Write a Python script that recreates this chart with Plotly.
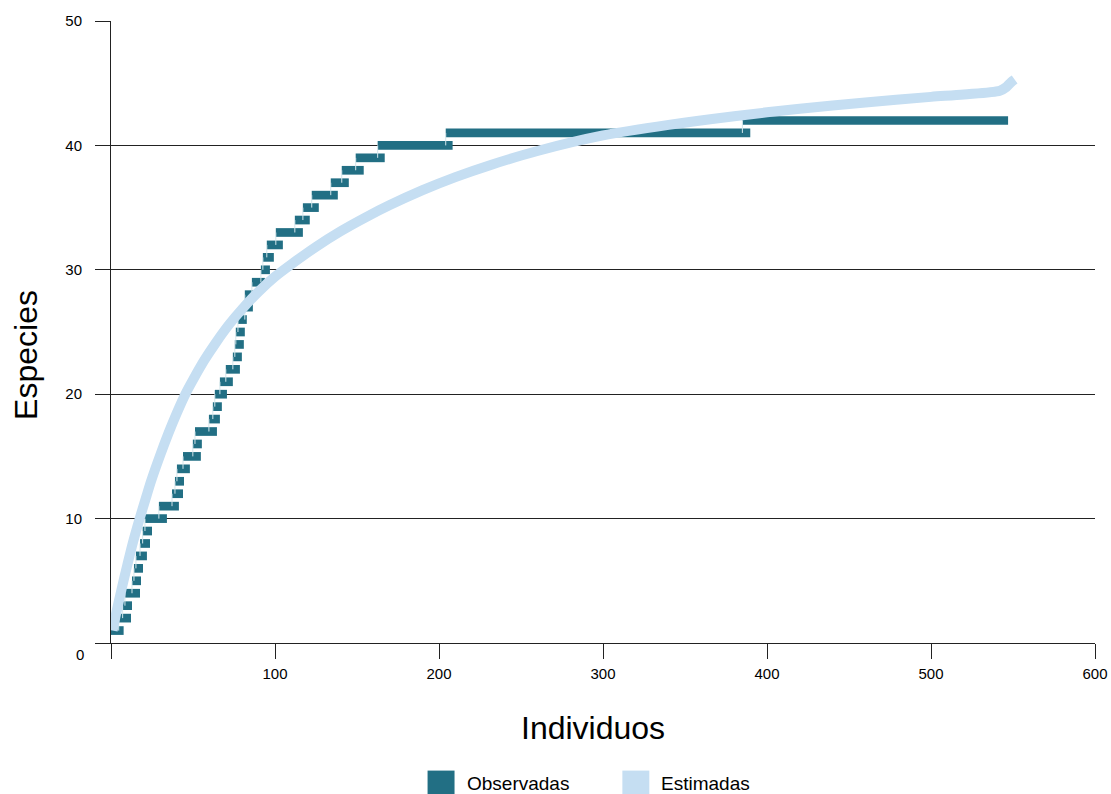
import plotly.graph_objects as go

# ---------------- data ----------------
species = list(range(1, 43))
seg_start = [-2.4, 4.7, 7.1, 8.5, 12.8, 14.0, 15.2, 17.7, 19.3, 20.7,
             29.2, 37.2, 39.0, 40.2, 43.9, 49.9, 51.2, 59.7, 62.1, 63.3,
             66.4, 70.0, 74.3, 75.5, 76.1, 77.4, 81.6, 81.6, 85.9, 91.4,
             92.6, 95.0, 100.5, 112.1, 117.0, 122.4, 134.0, 140.7, 149.2, 162.6,
             204.1, 385.0]
seg_end = [7.7, 12.2, 12.8, 17.7, 18.3, 19.5, 21.9, 23.8, 25.0, 34.1,
           41.4, 43.9, 44.5, 48.1, 54.8, 55.4, 64.6, 66.4, 67.6, 70.7,
           74.3, 78.6, 79.8, 81.0, 81.6, 82.8, 86.5, 88.3, 93.8, 96.9,
           99.3, 104.8, 117.0, 121.2, 126.7, 138.3, 145.0, 154.1, 166.9, 208.3,
           389.8, 547.0]

est_x = [1, 3, 6.4, 10, 13.4, 17.7, 21.6, 24.4, 30, 35, 40, 45.7, 50, 57, 64,
         72, 80, 90, 100, 110, 125, 140, 155, 170, 190, 210, 232, 260, 300,
         340, 380, 420, 460, 500, 520, 542, 546, 549, 551]
est_y = [1.0, 2.3, 4.3, 6.3, 8.1, 10.1, 11.8, 13.0, 15.1, 16.85, 18.45, 20.1,
         21.15, 22.75, 24.15, 25.6, 26.85, 28.25, 29.45, 30.45, 31.85, 33.1, 34.2,
         35.2, 36.4, 37.45, 38.45, 39.55, 40.8, 41.65, 42.35, 42.95, 43.45, 43.9,
         44.1, 44.4, 44.7, 45.1, 45.3]

x_ticks = [0, 100, 200, 300, 400, 500, 600]
y_ticks = [0, 10, 20, 30, 40, 50]

x_title = "Individuos"
y_title = "Especies"
legend_names = ["Observadas", "Estimadas"]

# ---------------- styles ----------------
OBS = "#226f84"
EST = "#c5def2"
GRID = "#222222"
FONT = "Liberation Sans, Arial, sans-serif"

fig = go.Figure()

# thin connectors between steps
cx, cy = [], []
for i in range(len(species) - 1):
    cx += [seg_start[i + 1], seg_start[i + 1], None]
    cy += [species[i], species[i + 1], None]
fig.add_trace(go.Scatter(x=cx, y=cy, mode="lines",
                         line=dict(color="#d3e6ec", width=1),
                         showlegend=False, hoverinfo="skip"))

# observed step segments
fig.add_trace(go.Bar(
    orientation="h",
    y=species,
    x=[e - s for s, e in zip(seg_start, seg_end)],
    base=seg_start,
    width=0.7,
    marker=dict(color=OBS, line=dict(width=0)),
    name=legend_names[0],
    showlegend=False,
))

# estimated curve
fig.add_trace(go.Scatter(
    x=est_x, y=est_y, mode="lines",
    line=dict(color=EST, width=10, shape="spline", smoothing=0.8),
    name=legend_names[1],
    showlegend=False,
))

# layout geometry (horizontal factor compensates the capture width)
SX = 1120 / 1111
W, H = 1120, 794
L = round(110 * SX)
R = W - round(1095 * SX)
T, B = 19, 151
pw, ph = W - L - R, H - T - B


def px_x(px):
    return (px * SX - L) / pw


def px_y(py):
    return (H - B - py) / ph


fig.update_layout(
    width=W, height=H,
    margin=dict(l=L, r=R, t=T, b=B, pad=0),
    paper_bgcolor="white", plot_bgcolor="white",
    font=dict(family=FONT, color="black", size=15),
    showlegend=False,
    xaxis=dict(
        range=[0, 600], tickvals=x_ticks,
        ticktext=["" if v == 0 else str(v) for v in x_ticks],
        showgrid=False, zeroline=False,
        showline=True, linecolor=GRID, linewidth=1,
        ticks="outside", ticklen=15, tickcolor=GRID, tickwidth=1,
        ticklabelstandoff=2,
        tickfont=dict(size=15, family=FONT),
    ),
    yaxis=dict(
        range=[0, 50], tickvals=y_ticks,
        ticktext=["" if v == 0 else str(v) for v in y_ticks],
        showgrid=True, gridcolor=GRID, gridwidth=1, zeroline=False,
        showline=True, linecolor=GRID, linewidth=1,
        ticks="outside", ticklen=15, tickcolor=GRID, tickwidth=1,
        ticklabelstandoff=10,
        tickfont=dict(size=15, family=FONT),
    ),
    shapes=[
        dict(type="rect", xref="paper", yref="paper",
             x0=px_x(427), x1=px_x(454), y0=px_y(798), y1=px_y(771),
             fillcolor=OBS, line=dict(width=0)),
        dict(type="rect", xref="paper", yref="paper",
             x0=px_x(622), x1=px_x(649), y0=px_y(798), y1=px_y(771),
             fillcolor=EST, line=dict(width=0)),
    ],
    annotations=[
        dict(text="0", xref="paper", yref="paper", x=px_x(85), y=px_y(655),
             xanchor="right", yanchor="middle", showarrow=False,
             font=dict(size=15, family=FONT)),
        dict(text=x_title, xref="paper", yref="paper", x=px_x(593), y=px_y(728),
             xanchor="center", yanchor="middle", showarrow=False,
             font=dict(size=32, family=FONT)),
        dict(text=y_title, xref="paper", yref="paper", x=px_x(25), y=px_y(354),
             xanchor="center", yanchor="middle", showarrow=False, textangle=-90,
             font=dict(size=32, family=FONT)),
        dict(text=legend_names[0], xref="paper", yref="paper", x=px_x(464), y=px_y(784),
             xanchor="left", yanchor="middle", showarrow=False,
             font=dict(size=19, family=FONT)),
        dict(text=legend_names[1], xref="paper", yref="paper", x=px_x(659), y=px_y(784),
             xanchor="left", yanchor="middle", showarrow=False,
             font=dict(size=19, family=FONT)),
    ],
)

fig.write_html(
    "out.html",
    config={"displayModeBar": False},
    post_script=(
        "document.body.style.margin='0';"
        "document.body.style.padding='0';"
        "document.documentElement.style.overflow='hidden';"
    ),
)
